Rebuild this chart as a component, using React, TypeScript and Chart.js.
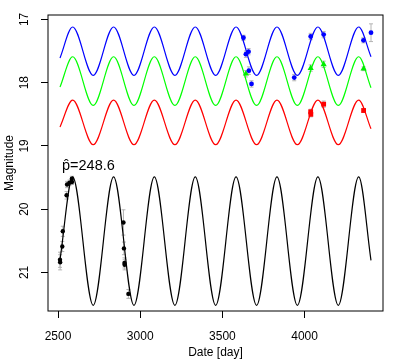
import React, { useEffect, useRef } from "react";
import { Chart, registerables } from "chart.js";
Chart.register(...registerables);

// ---- data ----
const xTickValues = [2500, 3000, 3500, 4000];
const yTickValues = [17, 18, 19, 20, 21];
const yTickLabels = ["17", "18", "19", "20", "21"];
const periodLabel = "p\u0302=248.6";

// fitted-curve key points (start, alternating maxima/minima, end)
const curveDays = [2512, 2589, 2714, 2838, 2962, 3086, 3211, 3335, 3459, 3583, 3708, 3832, 3956, 4081, 4205, 4329, 4404];
const blueCurve = [17.61, 17.12, 17.885, 17.12, 17.885, 17.12, 17.885, 17.12, 17.885, 17.12, 17.885, 17.12, 17.885, 17.12, 17.885, 17.12, 17.59];
const greenCurve = [18.07, 17.59, 18.36, 17.59, 18.36, 17.59, 18.36, 17.59, 18.36, 17.59, 18.36, 17.59, 18.36, 17.59, 18.36, 17.59, 18.08];
const redCurve = [18.70, 18.275, 18.98, 18.275, 18.98, 18.275, 18.98, 18.275, 18.98, 18.275, 18.98, 18.275, 18.98, 18.275, 18.98, 18.275, 18.73];
const blackCurve = [20.80, 19.49, 21.52, 19.49, 21.52, 19.49, 21.52, 19.49, 21.52, 19.49, 21.52, 19.49, 21.52, 19.49, 21.52, 19.49, 20.81];

// observations
const blueDays = [3628, 3643, 3659, 3661, 3677, 3937, 4037, 4116, 4358, 4404];
const blueMags = [17.29, 17.55, 17.51, 17.81, 18.02, 17.92, 17.27, 17.24, 17.33, 17.21];
const blueErrs = [0.04, 0.05, 0.05, 0.06, 0.05, 0.05, 0.05, 0.05, 0.04, 0.14];

const greenDays = [3643, 4037, 4116, 4359];
const greenMags = [17.86, 17.77, 17.71, 17.78];
const greenErrs = [0.05, 0.05, 0.05, 0.03];

const redDays = [4037, 4038, 4116, 4359];
const redMags = [18.46, 18.50, 18.34, 18.44];
const redErrs = [0.04, 0.04, 0.05, 0.03];

const blackDays = [2512, 2513, 2526, 2529, 2552, 2555, 2570, 2584, 2585, 2898, 2901, 2904, 2905, 2928];
const blackMags = [20.80, 20.84, 20.59, 20.35, 19.78, 19.61, 19.58, 19.52, 19.57, 20.21, 20.62, 20.85, 20.88, 21.34];
const blackErrs = [0.12, 0.12, 0.08, 0.08, 0.06, 0.05, 0.04, 0.04, 0.04, 0.2, 0.1, 0.08, 0.08, 0.07];

// ---- layout / style ----
const FONT = "'Liberation Sans', Arial, Helvetica, sans-serif";
const X_MIN = 2439, X_MAX = 4477, Y_MIN = 16.93, Y_MAX = 21.61;
const LABEL_DAY = 2524, LABEL_MAG = 19.385;

const pts = (xs: number[], ys: number[]) => xs.map((x, i) => ({ x, y: ys[i] }));

const errorBarPlugin = {
  id: "errorBars",
  beforeDatasetsDraw(chart: any) {
    const ctx = chart.ctx;
    const xs = chart.scales.x, ys = chart.scales.y;
    ctx.save();
    ctx.strokeStyle = "#b4b4b4";
    ctx.lineWidth = 1;
    chart.data.datasets.forEach((ds: any) => {
      if (!ds.errs) return;
      ds.data.forEach((p: any, i: number) => {
        const e = ds.errs[i];
        const px = xs.getPixelForValue(p.x);
        const y1 = ys.getPixelForValue(p.y - e);
        const y2 = ys.getPixelForValue(p.y + e);
        ctx.beginPath();
        ctx.moveTo(px, y1); ctx.lineTo(px, y2);
        ctx.moveTo(px - 2, y1); ctx.lineTo(px + 2, y1);
        ctx.moveTo(px - 2, y2); ctx.lineTo(px + 2, y2);
        ctx.stroke();
      });
    });
    ctx.restore();
  },
};

const decorPlugin = {
  id: "decor",
  afterDraw(chart: any) {
    const ctx = chart.ctx;
    const { left, right, top, bottom } = chart.chartArea;
    const xs = chart.scales.x, ys = chart.scales.y;
    ctx.save();
    ctx.strokeStyle = "#000";
    ctx.lineWidth = 1;
    ctx.strokeRect(left, top, right - left, bottom - top);
    ctx.fillStyle = "#000";
    ctx.font = `12px ${FONT}`;
    ctx.textAlign = "center";
    ctx.textBaseline = "middle";
    yTickValues.forEach((v, i) => {
      const py = ys.getPixelForValue(v);
      ctx.save();
      ctx.translate(25, py);
      ctx.rotate(-Math.PI / 2);
      ctx.fillText(yTickLabels[i], 0, 0);
      ctx.restore();
    });
    ctx.font = `14.5px ${FONT}`;
    ctx.textAlign = "left";
    ctx.textBaseline = "alphabetic";
    ctx.fillText(periodLabel, xs.getPixelForValue(LABEL_DAY), ys.getPixelForValue(LABEL_MAG));
    ctx.restore();
  },
};

export default function App() {
  const ref = useRef<HTMLCanvasElement>(null);
  useEffect(() => {
    const canvas = ref.current!;
    const pointSet = (data: any, errs: number[], color: string, style: string, radius: number) => ({
      data, errs, pointStyle: style, pointRadius: radius, backgroundColor: color, borderColor: color,
      borderWidth: 0, showLine: false,
    });
    const curveSet = (data: any, color: string) => ({
      data, showLine: true, borderColor: color, borderWidth: 1.2, pointRadius: 0,
      cubicInterpolationMode: "monotone", fill: false,
    });
    const chart = new Chart(canvas, {
      type: "scatter",
      data: {
        datasets: [
          pointSet(pts(blueDays, blueMags), blueErrs, "#0000ff", "circle", 2.4),
          pointSet(pts(greenDays, greenMags), greenErrs, "#00ee00", "triangle", 3.6),
          pointSet(pts(redDays, redMags), redErrs, "#ff0000", "rect", 3.4),
          pointSet(pts(blackDays, blackMags), blackErrs, "#000000", "circle", 2.2),
          curveSet(pts(curveDays, blueCurve), "#0000ff"),
          curveSet(pts(curveDays, greenCurve), "#00ff00"),
          curveSet(pts(curveDays, redCurve), "#ff0000"),
          curveSet(pts(curveDays, blackCurve), "#000000"),
        ] as any,
      },
      options: {
        responsive: false,
        animation: false,
        devicePixelRatio: 1,
        layout: { padding: { left: 0, right: 16, top: 15, bottom: 0 } },
        plugins: { legend: { display: false }, tooltip: { enabled: false } },
        scales: {
          x: {
            type: "linear",
            min: X_MIN,
            max: X_MAX,
            afterBuildTicks: (s: any) => { s.ticks = xTickValues.map((v) => ({ value: v })); },
            afterFit: (s: any) => { s.height = 48; },
            border: { display: false },
            grid: { drawOnChartArea: false, drawTicks: true, tickLength: 7, tickColor: "#000", tickWidth: 1 },
            ticks: { color: "#000", font: { family: FONT, size: 12 }, padding: 11, maxRotation: 0, autoSkip: false, callback: (v: any) => String(v) },
            title: { display: true, text: "Date [day]", color: "#000", font: { family: FONT, size: 12 }, padding: { top: 0, bottom: -1 } },
          },
          y: {
            type: "linear",
            reverse: true,
            min: Y_MIN,
            max: Y_MAX,
            afterBuildTicks: (s: any) => { s.ticks = yTickValues.map((v) => ({ value: v })); },
            afterFit: (s: any) => { s.width = 48; },
            border: { display: false },
            grid: { drawOnChartArea: false, drawTicks: true, tickLength: 7, tickColor: "#000", tickWidth: 1 },
            ticks: { color: "rgba(0,0,0,0)", font: { family: FONT, size: 12 } },
            title: { display: true, text: "Magnitude", color: "#000", font: { family: FONT, size: 12 }, padding: { top: 2, bottom: 0 } },
          },
        },
      } as any,
      plugins: [errorBarPlugin, decorPlugin],
    });
    return () => chart.destroy();
  }, []);
  return (
    <div style={{ position: "fixed", left: 0, top: 0, width: 399, height: 359, background: "#fff" }}>
      <canvas ref={ref} width={399} height={359} style={{ display: "block", width: 399, height: 359 }} />
    </div>
  );
}
